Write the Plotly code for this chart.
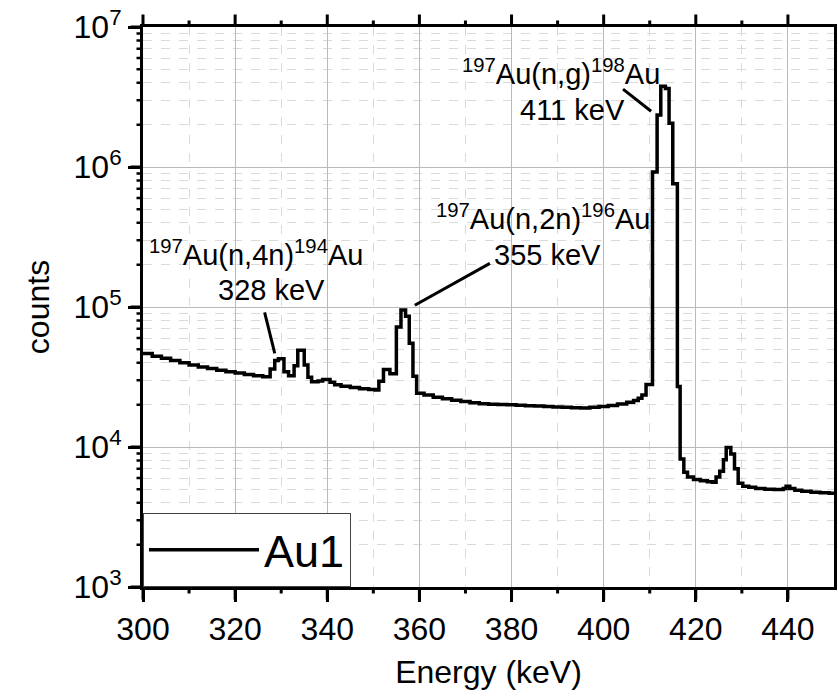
import math
import plotly.graph_objects as go

# ---- data ----
energy_kev = [
    300, 302, 304, 306, 308, 310, 312, 314, 316, 318, 320, 322, 324, 326,
    327.6, 328.6, 329.4, 330.6, 331.6, 332.8, 333.6, 335.0, 335.8, 336.6,
    338.0, 339.0, 340.6, 341.6, 343, 345, 347, 349, 350.4, 351.2, 352.2,
    353.6, 355.0, 356.0, 357.0, 357.8, 358.6, 359.4, 361, 363, 365, 367,
    369, 371, 373, 375, 377, 379, 381, 383, 385, 387, 389, 391, 393, 395,
    397, 399, 401, 403, 405, 406.5, 407.5, 408.3, 409.2, 410.6, 411.6,
    412.4, 413.4, 414.2, 415.0, 416.0, 416.6, 417.4, 418.2, 419.5, 421,
    422.5, 423.6, 424.4, 425.2, 426.0, 426.6, 427.6, 428.4, 429.2, 430.2,
    431.5, 433, 435, 437, 439.0, 439.6, 440.4, 441.5, 443, 445, 447, 449, 450,
]
counts_au1 = [
    46500, 44500, 43000, 41500, 40000, 38600, 37300, 36300, 35300, 34500,
    33800, 33000, 32300, 31700,
    36000, 41500, 42700, 34500, 32300, 38000, 49000, 38500, 31500, 29200,
    29600, 30300, 29000, 27800, 27200, 26600, 26100, 25700, 25500, 29500,
    35800, 33300, 72000, 95000, 86000, 55000, 32000, 24200, 23500, 22700,
    22100, 21600, 21100, 20700, 20400, 20200, 20100, 20000, 19900, 19700,
    19600, 19500, 19300, 19200, 19050, 19000, 19200, 19500, 19800, 20300,
    20900, 21500, 22300, 23500, 28000, 920000, 2350000, 3780000, 3640000,
    2050000, 760000, 27000, 8200, 6600, 6100, 5850, 5750, 5650, 5600, 6100,
    6700, 8100, 9900, 8900, 7000, 5500, 5250, 5150, 5050, 5000, 4980, 5050,
    5250, 5050, 4900, 4820, 4760, 4720, 4680, 4660,
]
series_name = "Au1"

x_range = [300, 450]
y_decades = [3, 7]
x_major_ticks = [300, 320, 340, 360, 380, 400, 420, 440]
x_minor_ticks = [310, 330, 350, 370, 390, 410, 430]
y_tick_vals = [1e3, 1e4, 1e5, 1e6, 1e7]
y_tick_text = ["10<sup>3</sup>", "10<sup>4</sup>", "10<sup>5</sup>",
               "10<sup>6</sup>", "10<sup>7</sup>"]
y_minor_ticks = [m * 10 ** d for d in range(3, 7) for m in range(2, 10)]

label_texts = [
    "<sup>197</sup>Au(n,4n)<sup>194</sup>Au",
    "328 keV",
    "<sup>197</sup>Au(n,2n)<sup>196</sup>Au",
    "355 keV",
    "<sup>197</sup>Au(n,g)<sup>198</sup>Au",
    "411 keV",
]
label_energy = [324.5, 327.9, 386.8, 387.9, 390.7, 393.2]
label_counts = [2.45e5, 1.315e5, 4.38e5, 2.34e5, 4.76e6, 2.55e6]

pointer_lines = [
    (326.4, 9.15e4, 328.6, 4.66e4),
    (375.3, 2.05e5, 359.0, 1.03e5),
    (404.2, 3.6e6, 410.3, 2.5e6),
]

FONT = "Liberation Sans, Arial, sans-serif"


def x_frac(v):
    return (v - x_range[0]) / (x_range[1] - x_range[0])


def y_frac(v):
    return (math.log10(v) - y_decades[0]) / (y_decades[1] - y_decades[0])


fig = go.Figure()
fig.add_trace(go.Scatter(
    x=energy_kev, y=counts_au1, mode="lines", name=series_name,
    line=dict(color="black", width=3.5, shape="hv"),
))

for t, e, c in zip(label_texts, label_energy, label_counts):
    fig.add_annotation(
        x=e, y=math.log10(c), xref="x", yref="y", text=t, showarrow=False,
        font=dict(family=FONT, size=29, color="black"),
        xanchor="center", yanchor="middle",
    )

for e0, c0, e1, c1 in pointer_lines:
    fig.add_shape(type="line", xref="x", yref="y", x0=e0, y0=c0, x1=e1, y1=c1,
                  line=dict(color="black", width=3))


def tick_mark(xp, yp, dx, dy, w):
    # a short outward tick drawn as a head-less annotation arrow (pixel offsets)
    fig.add_annotation(
        xref="paper", yref="paper", x=xp, y=yp, ax=dx, ay=dy,
        text="", showarrow=True, arrowhead=0, arrowwidth=w,
        arrowcolor="black", standoff=0, startstandoff=0,
        font=dict(size=1),
    )


for v in x_major_ticks:
    tick_mark(x_frac(v), 0, 0, 14, 3)
    tick_mark(x_frac(v), 1, 0, -14, 3)
for v in x_minor_ticks:
    tick_mark(x_frac(v), 0, 0, 8, 3)
    tick_mark(x_frac(v), 1, 0, -8, 3)
for v in y_tick_vals:
    tick_mark(0, y_frac(v), -14, 0, 3)
for v in y_minor_ticks:
    tick_mark(0, y_frac(v), -8, 0, 2.5)

fig.update_layout(
    width=838, height=696,
    margin=dict(l=143, r=1, t=27, b=109),
    paper_bgcolor="white", plot_bgcolor="white",
    font=dict(family=FONT, size=32, color="black"),
    showlegend=True,
    legend=dict(
        x=0, y=0, xanchor="left", yanchor="bottom",
        bgcolor="white", bordercolor="#444", borderwidth=1,
        font=dict(family=FONT, size=45, color="black"),
        itemwidth=110,
    ),
    xaxis=dict(
        range=x_range, tickvals=x_major_ticks,
        showline=True, linecolor="black", linewidth=3, mirror=True,
        ticks="outside", ticklen=12, tickwidth=3, tickcolor="black",
        showgrid=True, gridcolor="#b9b9b9", gridwidth=1,
        minor=dict(tickvals=x_minor_ticks, showgrid=True,
                   gridcolor="#dadada", griddash="dash", gridwidth=1),
        title=dict(text="Energy (keV)", font=dict(size=32)),
        zeroline=False,
    ),
    yaxis=dict(
        type="log", range=y_decades,
        tickvals=y_tick_vals, ticktext=y_tick_text,
        showline=True, linecolor="black", linewidth=3, mirror=True,
        ticks="outside", ticklen=12, tickwidth=3, tickcolor="black",
        showgrid=True, gridcolor="#b9b9b9", gridwidth=1,
        minor=dict(tickvals=y_minor_ticks, showgrid=True, gridcolor="#dadada",
                   griddash="dash", gridwidth=1),
        title=dict(text="counts", font=dict(size=32)),
        zeroline=False,
    ),
)

fig.write_html("out.html", config={"staticPlot": True})
